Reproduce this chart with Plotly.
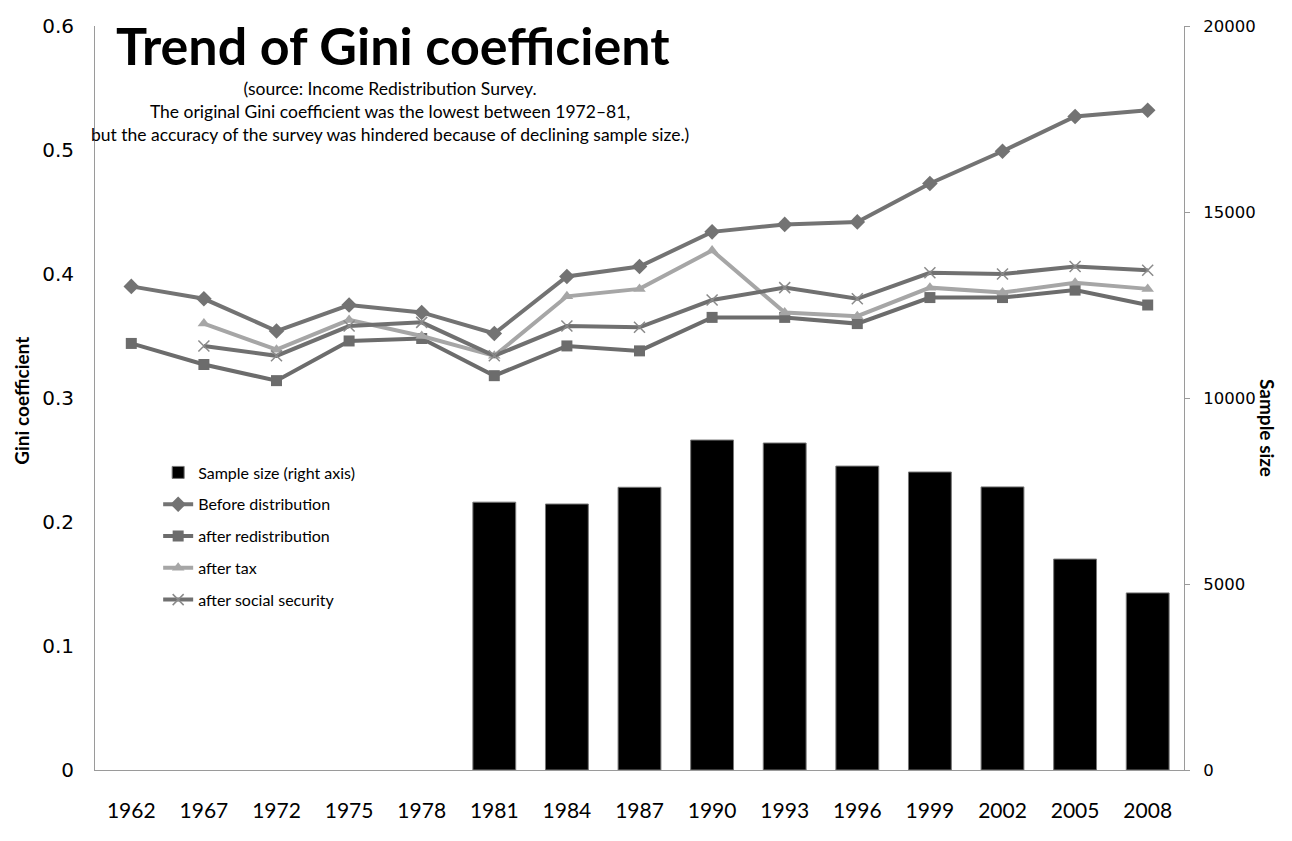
import plotly.graph_objects as go

# data
years = ["1962", "1967", "1972", "1975", "1978", "1981", "1984", "1987",
         "1990", "1993", "1996", "1999", "2002", "2005", "2008"]

before_distribution = [0.390, 0.380, 0.354, 0.375, 0.369, 0.352, 0.398, 0.406,
                       0.434, 0.440, 0.442, 0.473, 0.499, 0.527, 0.532]
after_redistribution = [0.344, 0.327, 0.314, 0.346, 0.348, 0.318, 0.342, 0.338,
                        0.365, 0.365, 0.360, 0.381, 0.381, 0.387, 0.375]
after_tax = [None, 0.360, 0.339, 0.363, 0.350, 0.334, 0.382, 0.388,
             0.419, 0.369, 0.366, 0.389, 0.385, 0.393, 0.388]
after_social_security = [None, 0.342, 0.334, 0.358, 0.361, 0.334, 0.358, 0.357,
                         0.379, 0.389, 0.380, 0.401, 0.400, 0.406, 0.403]

bar_years = ["1981", "1984", "1987", "1990", "1993", "1996", "1999", "2002", "2005", "2008"]
sample_size = [7200, 7150, 7600, 8870, 8790, 8170, 8010, 7610, 5670, 4760]

txt_font = "Lato, Calibri, 'Open Sans', sans-serif"
num_font = "'DejaVu Sans', Verdana, sans-serif"

fig = go.Figure()

# bars on the right axis
fig.add_trace(go.Bar(x=bar_years, y=sample_size, name="Sample size (right axis)",
                     marker=dict(color="black", line=dict(color="#777777", width=1)),
                     yaxis="y2", legendgroup="a"))

# gini lines
fig.add_trace(go.Scatter(x=years, y=before_distribution, name="Before distribution",
                         mode="lines+markers", line=dict(color="#737373", width=4),
                         marker=dict(symbol="diamond", size=12, color="#737373"),
                         legendgroup="b"))
fig.add_trace(go.Scatter(x=years, y=after_redistribution, name="after redistribution",
                         mode="lines+markers", line=dict(color="#6c6c6c", width=4),
                         marker=dict(symbol="square", size=11, color="#6c6c6c"),
                         legendgroup="c"))
fig.add_trace(go.Scatter(x=years, y=after_tax, name="after tax",
                         mode="lines+markers", line=dict(color="#a6a6a6", width=4),
                         marker=dict(symbol="triangle-up", size=11, color="#a6a6a6"),
                         legendgroup="d"))
fig.add_trace(go.Scatter(x=years, y=after_social_security, name="after social security",
                         mode="lines+markers", line=dict(color="#707070", width=4),
                         marker=dict(symbol="x-thin", size=11,
                                     line=dict(color="#8a8a8a", width=1.5)),
                         legendgroup="e"))

# annotations: title, note, axis titles
annos = [
    dict(text="<b>Trend of Gini coefficient</b>", x=0.017, y=0.975, xref="paper", yref="paper",
         xanchor="left", yanchor="middle", showarrow=False,
         font=dict(family=txt_font, size=52, color="black")),
    dict(text="(source: Income Redistribution Survey.<br>"
              "The original Gini coefficient was the lowest between 1972\u201381,<br>"
              "but the accuracy of the survey was hindered because of declining sample size.)",
         x=0.271, y=0.8855, xref="paper", yref="paper", xanchor="center", yanchor="middle",
         showarrow=False, align="center",
         font=dict(family=txt_font, size=17.5, color="black")),
    dict(text="<b>Gini coefficient</b>", x=-0.0675, y=0.497, xref="paper", yref="paper",
         xanchor="center", yanchor="middle", textangle=-90, showarrow=False,
         font=dict(family=txt_font, size=19, color="black")),
    dict(text="<b>Sample size</b>", x=1.076, y=0.46, xref="paper", yref="paper",
         xanchor="center", yanchor="middle", textangle=90, showarrow=False,
         font=dict(family=txt_font, size=19, color="black")),
]

# outer chart border
shapes = [dict(type="rect", xref="paper", yref="paper", x0=-0.0808, x1=1.0946,
               y0=-0.12, y1=1.0296, line=dict(color="#7a7a7a", width=1))]

fig.update_layout(
    width=1292, height=841,
    margin=dict(l=87, r=116, t=18, b=79, autoexpand=False),
    paper_bgcolor="white", plot_bgcolor="white",
    bargap=0.41,
    annotations=annos, shapes=shapes,
    xaxis=dict(type="category", categoryorder="array", categoryarray=years,
               range=[-0.5, len(years) - 0.5], automargin=False,
               showgrid=False, showline=True, linecolor="#9a9a9a", linewidth=1,
               ticks="", ticklabelstandoff=22,
               tickfont=dict(family=txt_font, size=21, color="black")),
    yaxis=dict(range=[0, 0.6], dtick=0.1, showgrid=False, zeroline=False,
               showline=True, linecolor="#9a9a9a", linewidth=1, ticks="",
               ticklabelstandoff=16, automargin=False,
               tickfont=dict(family=num_font, size=20, color="black")),
    yaxis2=dict(range=[0, 20000], dtick=5000, overlaying="y", side="right",
                showgrid=False, zeroline=False, showline=True, linecolor="#9a9a9a",
                linewidth=1, ticks="outside", ticklen=5, tickcolor="#9a9a9a",
                tickformat="d", ticklabelstandoff=10, automargin=False,
                tickfont=dict(family=num_font, size=16.5, color="black")),
    legend=dict(x=0.058, y=0.4227, xanchor="left", yanchor="top",
                bgcolor="rgba(0,0,0,0)", traceorder="grouped", tracegroupgap=8,
                font=dict(family=txt_font, size=16, color="black")),
    showlegend=True,
)

fig.write_html("out.html")
